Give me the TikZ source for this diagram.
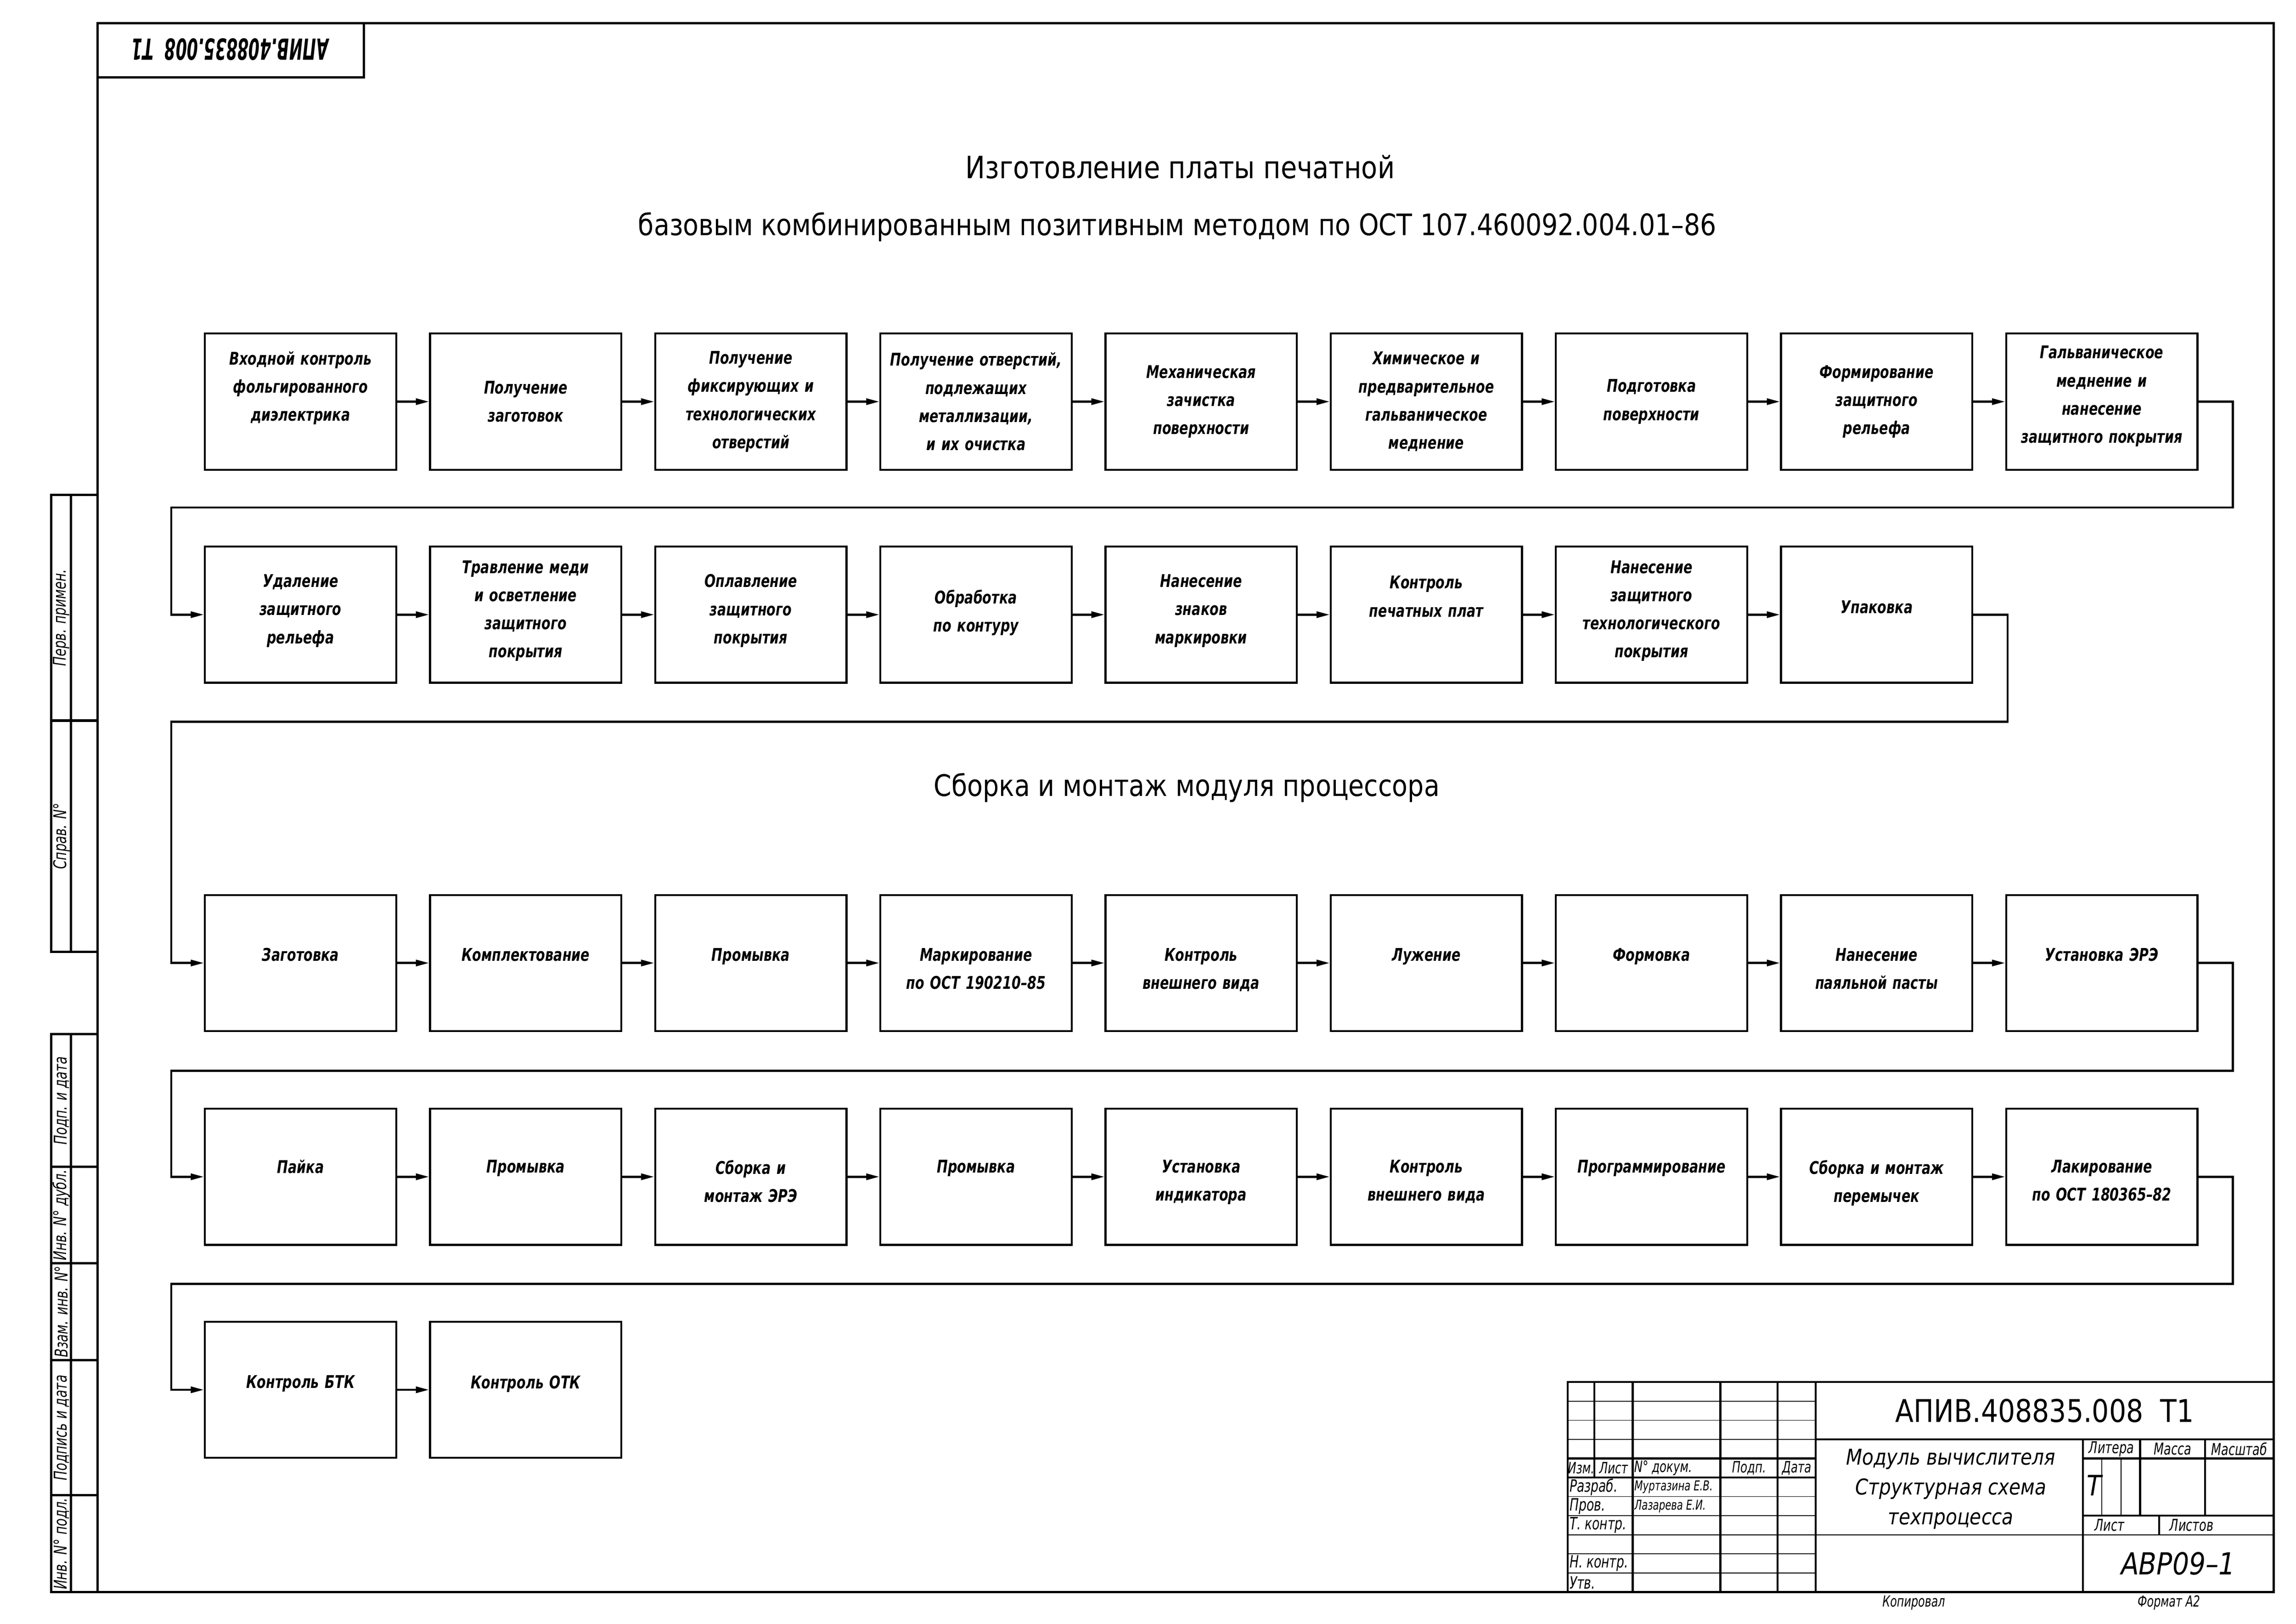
\documentclass[tikz,border=0pt]{standalone}
\usepackage{fontspec}
\setmainfont{DejaVu Sans}
\newfontfamily\stagefont{DejaVu Sans}[FakeStretch=0.75]
\newfontfamily\titlefont{DejaVu Sans}[FakeStretch=0.86]
\newfontfamily\gostfont{DejaVu Sans}[FakeStretch=0.72]
\newfontfamily\codefont{DejaVu Sans}[FakeStretch=0.55]
\usetikzlibrary{arrows.meta}

\tikzset{
  stage/.style={draw, line width=0.5mm, minimum width=49.5mm, minimum height=35.2mm, inner sep=0pt},
  stagetext/.style={font=\stagefont\bfseries\itshape\fontsize{12.9}{20.7}\selectfont,
    text width=49mm, align=center, inner sep=0pt},
  stagetop/.style={stagetext, anchor=north},
  flow/.style={line width=0.55mm, -{Triangle[length=3.4mm,width=1.6mm]}},
  frameline/.style={line width=0.6mm},
  thickline/.style={line width=0.5mm},
  thinline/.style={line width=0.2mm},
  headtext/.style={font=\titlefont\fontsize{#1}{27}\selectfont, inner sep=0pt},
  headtext/.default=22.6,
  codebig/.style={font=\titlefont\fontsize{23}{27}\selectfont, inner sep=0pt},
  namebig/.style={font=\titlefont\itshape\fontsize{16}{22}\selectfont, align=center, inner sep=0pt},
  stampcode/.style={font=\codefont\bfseries\itshape\fontsize{21.4}{25}\selectfont, inner sep=0pt},
  formtext/.style={font=\gostfont\itshape\fontsize{#1}{#1}\selectfont, inner sep=0pt},
  formtext/.default=11,
}

\begin{document}
\begin{tikzpicture}[x=1mm,y=1mm]
  \useasboundingbox (0,0) rectangle (594,420);
  % frame and upside-down stamp
  \draw[frameline] (25.3,8.2) rectangle (588.2,414);
  \draw[frameline] (25.3,400) -| (94.2,414);
  \node[stampcode, rotate=180] (stamp) at (59.5,407.2) {АПИВ.408835.008\ \ Т1};

  % left margin columns
  \draw[frameline] (13.3,173.8) rectangle (25.3,292);
  \draw[frameline] (18.4,173.8) -- (18.4,292);
  \draw[frameline] (13.3,233.6) -- (25.3,233.6);
  \draw[frameline] (13.3,8.2) rectangle (25.3,152.5);
  \draw[frameline] (18.4,8.2) -- (18.4,152.5);
  \foreach \y in {33.2,68.2,93.2,118.2} \draw[frameline] (13.3,\y) -- (25.3,\y);
  \foreach \txt/\y [count=\i] in {Перв. примен./260.2, Справ. N°/203.7, Подп. и дата/135.3,
      Инв. N° дубл./105.7, Взам. инв. N°/80.7, Подпись и дата/50.7, Инв. N° подл./20.7}
    \node[formtext=13, rotate=90] (m\i) at (15.9,\y) {\txt};

  % title block
  \begin{scope}[shift={(405.6,8.2)}, x=0.987mm, y=0.987mm]
    \draw[thickline] (0,0) rectangle (185,55);
    \foreach \x in {17,40,55,65} \draw[thickline] (\x,0) -- (\x,55);
    \draw[thickline] (7,30) -- (7,55);
    \draw[thickline] (0,30) -- (65,30) (0,35) -- (65,35);
    \draw[thickline] (65,40) -- (185,40);
    \draw[thickline] (135,0) -- (135,40);
    \draw[thickline] (135,35) -- (185,35) (135,20) -- (185,20);
    \draw[thickline] (150,20) -- (150,40) (167,20) -- (167,40) (155,15) -- (155,20);
    \foreach \y in {5,10,15,20,25,40,45,50} \draw[thinline] (0,\y) -- (65,\y);
    \draw[thinline] (65,15) -- (185,15);
    \draw[thinline] (140,20) -- (140,35) (145,20) -- (145,35);

    \node[codebig] (dsg) at (125,47.5) {АПИВ.408835.008\ \ Т1};
    \node[namebig] (nm) at (100.4,27) {Модуль вычислителя\\Структурная схема\\техпроцесса};
    \node[formtext=12] (lit) at (142.5,37.5) {Литера};
    \node[formtext=12] (mass) at (158.5,37.5) {Масса};
    \node[formtext=12] (scl) at (176,37.5) {Масштаб};
    \node[font=\titlefont\itshape\fontsize{20.7}{24}\selectfont, inner sep=0pt] (litv) at (138,28) {Т};
    \node[formtext=12] (sh) at (142,17.5) {Лист};
    \node[formtext=12] (shs) at (163.5,17.5) {Листов};
    \node[font=\titlefont\itshape\fontsize{22.3}{26}\selectfont, inner sep=0pt] (org) at (160,7.5) {АВР09–1};
    \foreach \txt/\x [count=\i] in {Изм./3.5, Лист/12, N° докум./25, Подп./47.5, Дата/60}
      \node[formtext=11.5] (h\i) at (\x,32.5) {\txt};
    \foreach \txt/\y [count=\i] in {Разраб./27.5, Пров./22.5, Т. контр./17.5, Н. контр./7.5, Утв./2.5}
      \node[formtext=12.5, anchor=west] (r\i) at (0.4,\y) {\txt};
    \node[formtext=10, anchor=west] (dev) at (17.4,27.5) {Муртазина Е.В.};
    \node[formtext=10, anchor=west] (chk) at (17.4,22.5) {Лазарева Е.И.};
  \end{scope}
  \node[formtext=11.2] (copy) at (495.1,5.4) {Копировал};
  \node[formtext=11.2] (fmt) at (561.1,5.4) {Формат А2};

  % headings
  \node[headtext] (title1) at (305.3,376.8) {Изготовление платы печатной};
  \node[headtext=21.8] (title2) at (304.6,361.3) {базовым комбинированным позитивным методом по ОСТ 107.460092.004.01–86};
  \node[headtext=21.8] (title3) at (307.0,216.2) {Сборка и монтаж модуля процессора};

  % row 1
  \foreach \txt/\dy [count=\i] in {
      {Входной контроль\\фольгированного\\диэлектрика}/3.5,
      {Получение\\заготовок}/0,
      {Получение\\фиксирующих и\\технологических\\отверстий}/0,
      {Получение отверстий,\\подлежащих\\металлизации,\\и их очистка}/0,
      {Механическая\\зачистка\\поверхности}/0,
      {Химическое и\\предварительное\\гальваническое\\меднение}/0,
      {Подготовка\\поверхности}/0,
      {Формирование\\защитного\\рельефа}/0,
      {Гальваническое\\меднение и\\нанесение\\защитного покрытия}/1.4}
  {
    \node[stage] (a\i) at ({77.75+58.25*(\i-1)},316.1) {};
    \node[stagetext] (ta\i) at ([yshift=\dy mm]a\i.center) {\txt};
  }
  % row 2
  \foreach \txt/\dy [count=\i] in {
      {Удаление\\защитного\\рельефа}/1,
      {Травление меди\\и осветление\\защитного\\покрытия}/1,
      {Оплавление\\защитного\\покрытия}/1,
      {Обработка\\по контуру}/0.5,
      {Нанесение\\знаков\\маркировки}/1,
      {Контроль\\печатных плат}/4.7,
      {Нанесение\\защитного\\технологического\\покрытия}/1,
      {Упаковка}/2}
  {
    \node[stage] (b\i) at ({77.75+58.25*(\i-1)},261.0) {};
    \node[stagetext] (tb\i) at ([yshift=\dy mm]b\i.center) {\txt};
  }
  % row 3
  \foreach \txt [count=\i] in {Заготовка, Комплектование, Промывка,
      {Маркирование\\по ОСТ 190210–85}, {Контроль\\внешнего вида}, Лужение, Формовка,
      {Нанесение\\паяльной пасты}, Установка ЭРЭ}
  {
    \node[stage] (c\i) at ({77.75+58.25*(\i-1)},170.9) {};
    \node[stagetop] (tc\i) at ([yshift=3.9mm]c\i.center) {\txt};
  }
  % row 4
  \foreach \txt [count=\i] in {Пайка, Промывка, {Сборка и\\монтаж ЭРЭ}, Промывка,
      {Установка\\индикатора}, {Контроль\\внешнего вида}, Программирование,
      {Сборка и монтаж\\перемычек}, {Лакирование\\по ОСТ 180365–82}}
  {
    \node[stage] (d\i) at ({77.75+58.25*(\i-1)},115.6) {};
    \node[stagetop] (td\i) at ([yshift=4.4mm]d\i.center) {\txt};
  }
  % row 5
  \foreach \txt [count=\i] in {Контроль БТК, Контроль ОТК}
  {
    \node[stage] (e\i) at ({77.75+58.25*(\i-1)},60.5) {};
    \node[stagetop] (te\i) at ([yshift=3.8mm]e\i.center) {\txt};
  }

  % arrows along rows
  \foreach \r/\m in {a/8,b/7,c/8,d/8,e/1}
    \foreach \i [count=\j from 2] in {1,...,\m}
      \draw[flow] (\r\i.east) -- (\r\j.west);

  % turns between rows
  \coordinate (ab) at (44.3,288.7);
  \coordinate (bc) at (44.3,233.3);
  \coordinate (cd) at (44.3,143.0);
  \coordinate (de) at (44.3,87.9);
  \draw[flow] (a9.east) -- ++(8.9,0) |- (ab) |- (b1.west);
  \draw[flow] (b8.east) -- ++(8.9,0) |- (bc) |- (c1.west);
  \draw[flow] (c9.east) -- ++(8.9,0) |- (cd) |- (d1.west);
  \draw[flow] (d9.east) -- ++(8.9,0) |- (de) |- (e1.west);
\end{tikzpicture}
\end{document}
